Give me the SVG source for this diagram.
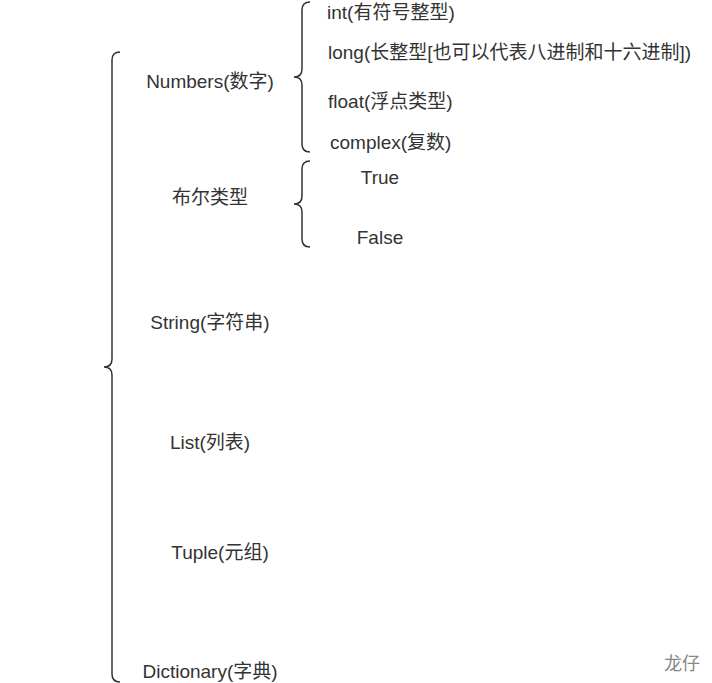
<svg xmlns="http://www.w3.org/2000/svg" width="712" height="683" viewBox="0 0 712 683">
<style>
text{font-family:"Liberation Sans","Noto Sans CJK SC",sans-serif;font-size:19px;fill:#333;dominant-baseline:central}
.c{text-anchor:middle}
.brace{fill:none;stroke:#333;stroke-width:1.5}
.wm{fill:#888;font-size:18px}
</style>
<rect width="712" height="683" fill="#fff"/>
<g id="connectors">
<path class="brace" d="M120,52 Q112,52 112,60 L112,359 Q112,367 104,367 Q112,367 112,375 L112,674 Q112,682 120,682"/>
<path class="brace" d="M310,2 Q302,2 302,10 L302,69 Q302,77 294,77 Q302,77 302,85 L302,144 Q302,152 310,152"/>
<path class="brace" d="M310,161 Q302,161 302,169 L302,196 Q302,204 294,204 Q302,204 302,212 L302,239 Q302,247 310,247"/>
</g>
<g id="numbers"><text class="c" x="210" y="81">Numbers(数字)</text></g>
<g id="bool"><text class="c" x="210" y="197">布尔类型</text></g>
<g id="string"><text class="c" x="210" y="322">String(字符串)</text></g>
<g id="list"><text class="c" x="210" y="442">List(列表)</text></g>
<g id="tuple"><text class="c" x="220" y="552">Tuple(元组)</text></g>
<g id="dict"><text class="c" x="210" y="671">Dictionary(字典)</text></g>
<g id="int"><text x="327" y="12">int(有符号整型)</text></g>
<g id="long"><text x="328" y="52">long(长整型[也可以代表八进制和十六进制])</text></g>
<g id="float"><text x="328" y="101">float(浮点类型)</text></g>
<g id="complex"><text x="330" y="142">complex(复数)</text></g>
<g id="true"><text class="c" x="380" y="177">True</text></g>
<g id="false"><text class="c" x="380" y="237">False</text></g>
<g id="watermark"><text class="c wm" x="682" y="664">龙仔</text></g>
</svg>
